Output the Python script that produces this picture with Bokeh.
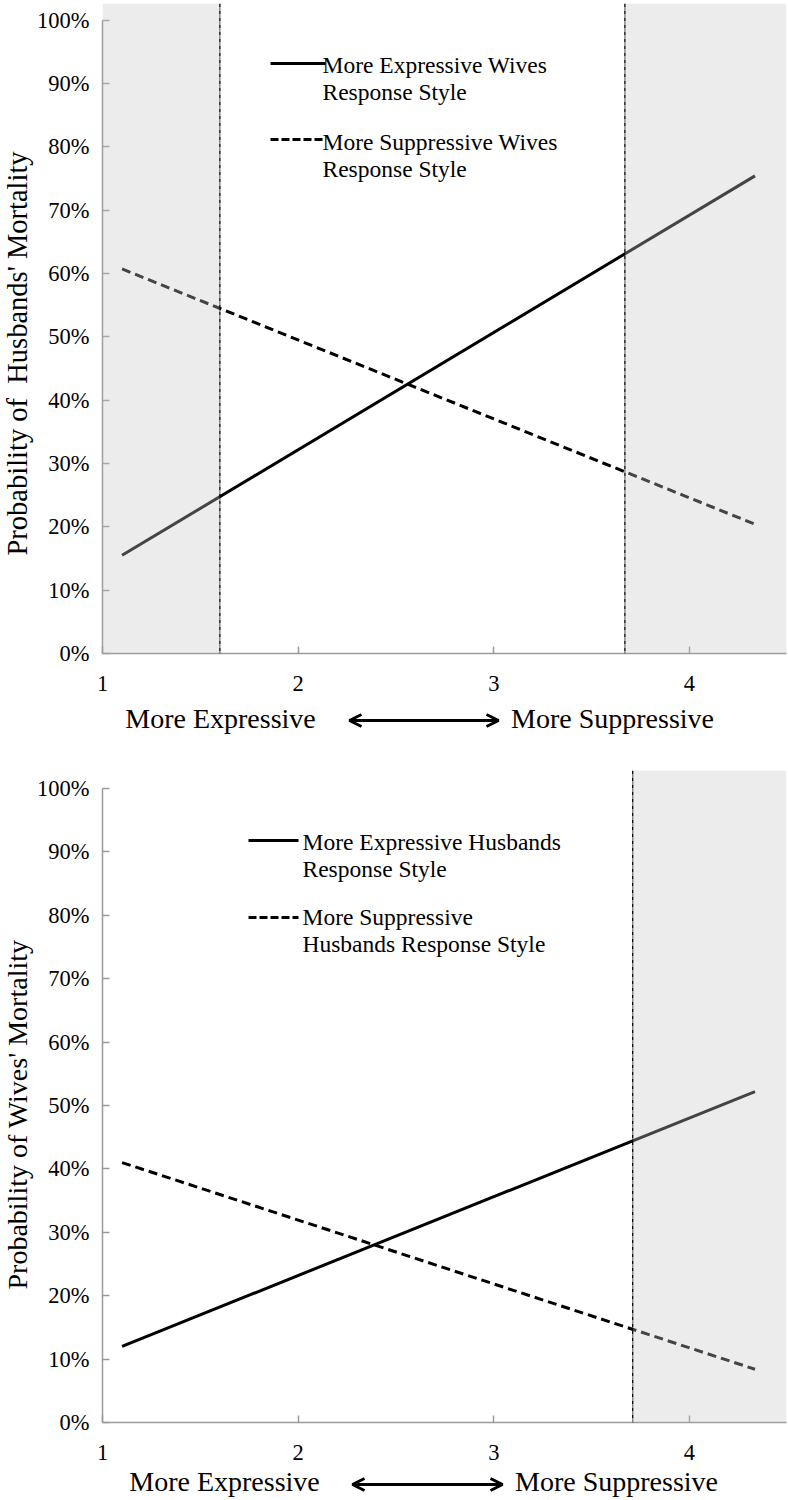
import math
from bokeh.plotting import figure
from bokeh.layouts import column
from bokeh.models import (FixedTicker, NumeralTickFormatter, BoxAnnotation, Span,
                          Label, Arrow, OpenHead, Range1d)
from bokeh.embed import file_html
from bokeh.resources import INLINE

FONT = "Liberation Serif"

# ---------------- data ----------------
x_points = [1.1, 4.335]
husbands_expressive_wives = [0.155, 0.754]
husbands_suppressive_wives = [0.607, 0.204]
wives_expressive_husbands = [0.12, 0.522]
wives_suppressive_husbands = [0.41, 0.084]
x_ticks = [1, 2, 3, 4]
y_ticks = [0.0, 0.1, 0.2, 0.3, 0.4, 0.5, 0.6, 0.7, 0.8, 0.9, 1.0]
top_cuts = [1.6, 3.67]        # region-of-significance boundaries (top chart)
bottom_cuts = [None, 3.71]    # (bottom chart)
top_legend = [["More Expressive Wives", "Response Style"],
              ["More Suppressive Wives", "Response Style"]]
bottom_legend = [["More Expressive Husbands", "Response Style"],
                 ["More Suppressive", "Husbands Response Style"]]
top_ytitle = "Probability of\u00a0 Husbands' Mortality"
bottom_ytitle = "Probability of Wives' Mortality"
left_text = "More Expressive"
right_text = "More Suppressive"

AXIS_COLOR = "#9a9a9a"
TOTAL_W = 788
FRAME_L = 102
FRAME_R = 786
X_UNIT = 195.65


def panel(g, expr, supp, cuts, legend, lay, ytitle, title_size, title_offset):
    frame_w = FRAME_R - FRAME_L
    frame_h = g["zero"] - g["ftop"]
    x_end = 1 + frame_w / X_UNIT
    y_end = frame_h / g["yu"]

    def X(px):
        return 1 + (px - FRAME_L) / X_UNIT

    def Y(py):
        return (g["zero"] - py) / g["yu"]

    p = figure(frame_width=frame_w, frame_height=frame_h,
               min_border_left=FRAME_L, min_border_right=TOTAL_W - FRAME_R,
               min_border_top=g["ftop"] - g["top"], min_border_bottom=g["bottom"] - g["zero"],
               x_range=Range1d(1, x_end), y_range=Range1d(0, y_end),
               title=ytitle, title_location="left",
               output_backend="svg", toolbar_location=None)
    p.title.text_font = FONT
    p.title.text_font_size = title_size
    p.title.text_font_style = "normal"
    p.title.text_color = "black"
    p.title.align = "left"
    p.title.vertical_align = "top"
    p.title.standoff = 0
    p.title.offset = title_offset

    p.background_fill_color = "white"
    p.border_fill_color = "white"
    p.outline_line_color = None
    p.xgrid.visible = False
    p.ygrid.visible = False

    p.xaxis.ticker = FixedTicker(ticks=x_ticks)
    p.yaxis.ticker = FixedTicker(ticks=y_ticks)
    p.yaxis.formatter = NumeralTickFormatter(format="0%")
    p.yaxis.bounds = (0, 1)
    for ax in (p.xaxis, p.yaxis):
        ax.axis_line_color = AXIS_COLOR
        ax.axis_line_width = 1.5
        ax.major_tick_line_color = AXIS_COLOR
        ax.major_tick_line_width = 1.5
        ax.major_tick_in = 7
        ax.major_tick_out = 0
        ax.minor_tick_line_color = None
        ax.major_label_text_font = FONT
        ax.major_label_text_font_size = "22.5px"
        ax.major_label_text_color = "black"
    p.xaxis.major_label_standoff = 22
    p.yaxis.major_label_standoff = 13

    # series
    p.line(x_points, expr, line_color="black", line_width=3)
    p.line(x_points, supp, line_color="black", line_width=3, line_dash="9 5")

    # shaded regions (overlay so lines appear greyed)
    lo, hi = cuts
    if lo is not None:
        p.add_layout(BoxAnnotation(right=lo, fill_color="#c8c8c8", fill_alpha=0.34,
                                   line_color=None))
        p.add_layout(Span(location=lo, dimension="height", line_color="black",
                          line_width=1.3, line_dash="4 1 1 1"))
    if hi is not None:
        p.add_layout(BoxAnnotation(left=hi, fill_color="#c8c8c8", fill_alpha=0.34,
                                   line_color=None))
        p.add_layout(Span(location=hi, dimension="height", line_color="black",
                          line_width=1.3, line_dash="4 1 1 1"))

    # legend (manual, two-line labels)
    gx0, gx1, tx = lay["leg_glyph_x0"], lay["leg_glyph_x1"], lay["leg_text_x"]
    for (lines, gy, ty, dash) in zip(legend, lay["leg_glyph_y"], lay["leg_text_y"],
                                      ["solid", "8 3"]):
        p.line([X(gx0), X(gx1)], [Y(gy), Y(gy)], line_color="black", line_width=3,
               line_dash=dash)
        for i, t in enumerate(lines):
            p.add_layout(Label(x=X(tx), y=Y(ty + i * 27), text=t, text_align="left",
                               text_baseline="middle", text_font=FONT,
                               text_font_size="23.5px", text_color="black"))
    return p


def direction_strip(h, page_top, lay):
    # frame aligned with the plots' frames; x in page pixels
    s = figure(frame_width=FRAME_R - FRAME_L, frame_height=h,
               min_border_left=FRAME_L, min_border_right=TOTAL_W - FRAME_R,
               min_border_top=0, min_border_bottom=0,
               x_range=Range1d(FRAME_L, FRAME_R), y_range=Range1d(0, h),
               x_axis_type=None, y_axis_type=None,
               output_backend="svg", toolbar_location=None)
    s.outline_line_color = None
    s.grid.visible = False

    def SY(py):
        return h - (py - page_top)

    s.add_layout(Label(x=lay["lt_x"], y=SY(lay["base_y"]), text=left_text,
                       text_align="center", text_baseline="alphabetic", text_font=FONT,
                       text_font_size="28px", text_color="black"))
    s.add_layout(Label(x=lay["rt_x"], y=SY(lay["base_y"]), text=right_text,
                       text_align="center", text_baseline="alphabetic", text_font=FONT,
                       text_font_size="28px", text_color="black"))
    s.add_layout(Arrow(x_start=lay["ar_x0"], y_start=SY(lay["ar_y"]),
                       x_end=lay["ar_x1"], y_end=SY(lay["ar_y"]),
                       start=OpenHead(size=12, line_width=3, line_color="black"),
                       end=OpenHead(size=12, line_width=3, line_color="black"),
                       line_width=3, line_color="black"))
    return s


# page-pixel layout
top_geom = dict(top=0, ftop=3, zero=653, yu=633.5, bottom=700)
bottom_geom = dict(top=745, ftop=770, zero=1422, yu=634.0, bottom=1466)

top_lay = dict(leg_glyph_x0=270, leg_glyph_x1=325, leg_text_x=322,
               leg_glyph_y=[63, 139], leg_text_y=[64, 141])
bottom_lay = dict(leg_glyph_x0=248, leg_glyph_x1=298, leg_text_x=302,
                  leg_glyph_y=[840, 917], leg_text_y=[841, 916])
top_dir = dict(lt_x=220, rt_x=612, base_y=718, ar_x0=349, ar_x1=498, ar_y=720)
bottom_dir = dict(lt_x=224, rt_x=616, base_y=1481, ar_x0=352, ar_x1=502, ar_y=1484)

p1 = panel(top_geom, husbands_expressive_wives, husbands_suppressive_wives, top_cuts,
           top_legend, top_lay, top_ytitle, "28.5px", 98)
p2 = panel(bottom_geom, wives_expressive_husbands, wives_suppressive_husbands, bottom_cuts,
           bottom_legend, bottom_lay, bottom_ytitle, "28px", 133)

d1 = direction_strip(bottom_geom["top"] - top_geom["bottom"], top_geom["bottom"], top_dir)
d2 = direction_strip(1500 - bottom_geom["bottom"], bottom_geom["bottom"], bottom_dir)

layout = column(p1, d1, p2, d2, spacing=0)
open("out.html", "w").write(file_html(layout, INLINE))
